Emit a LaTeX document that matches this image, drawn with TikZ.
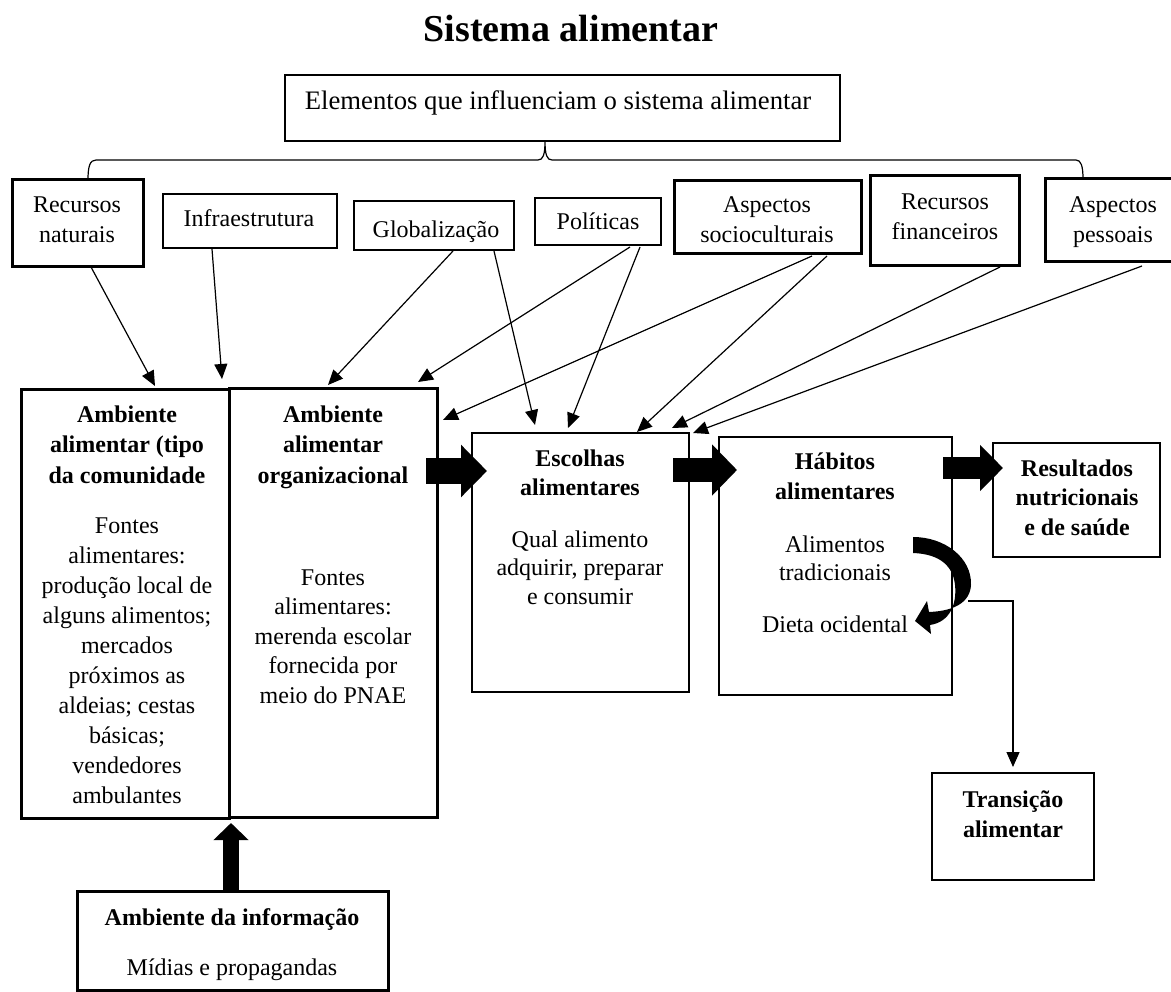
\documentclass[tikz,border=0pt]{standalone}
\usepackage{fontspec}
\setmainfont{Liberation Serif}
\usetikzlibrary{arrows.meta,calc}
\begin{document}
\begin{tikzpicture}[x=1pt,y=-1pt,
  box/.style={draw, rectangle, anchor=north west, inner sep=0pt, outer sep=0pt, line width=1.3pt},
  midbox/.style={box, line width=2pt},
  boldbox/.style={box, line width=3pt},
  % multi-line texts are placed by the baseline of their last line
  txt/.style={align=center, anchor=base, inner sep=0pt, font=\fontsize{24}{30}\selectfont},
  btxt/.style={txt, font=\fontsize{24}{30.5}\selectfont\bfseries},
  arr/.style={line width=1.2pt, -{Triangle[length=15pt,width=13pt]}},
  brace/.style={line width=1.2pt},
  curvedarrow/.style={fill=black, draw=none}
]
\useasboundingbox (0,0) rectangle (1171,992);

% title
\node[anchor=base, inner sep=0pt, font=\fontsize{38}{44}\selectfont\bfseries] (title) at (571,42) {Sistema alimentar};

% heading box
\node[midbox, minimum width=555pt, minimum height=66pt] (top) at (285,75) {};
\node[txt, font=\fontsize{26.7}{30}\selectfont] (topT) at (558,110) {Elementos que influenciam o sistema alimentar};

% influencing factors
\node[boldbox, minimum width=131pt, minimum height=87pt] (natur) at (12,180) {};
\node[txt] (naturT) at (77,243) {Recursos\\naturais};
\node[box, minimum width=174pt, minimum height=54pt] (infra) at (163,194) {};
\node[txt] (infraT) at (249,227) {Infraestrutura};
\node[box, minimum width=160pt, minimum height=49pt] (glob) at (354,201) {};
\node[txt] (globT) at (436,238) {Globalização};
\node[box, minimum width=126pt, minimum height=47pt] (polit) at (535,198) {};
\node[txt] (politT) at (598,230) {Políticas};
\node[boldbox, minimum width=187pt, minimum height=73pt] (socio) at (674,181) {};
\node[txt] (socioT) at (767,243) {Aspectos\\socioculturais};
\node[boldbox, minimum width=149pt, minimum height=90pt] (finan) at (870,176) {};
\node[txt] (finanT) at (945,240) {Recursos\\financeiros};
\node[boldbox, minimum width=128pt, minimum height=83pt] (pess) at (1045,179) {};
\node[txt] (pessT) at (1113,243) {Aspectos\\pessoais};

% brace joining the factors to the heading box
\coordinate (bl) at ($(natur.north west)+(76,0)$);
\coordinate (bc) at ($(top.south west)+(260,0)$);
\coordinate (br) at ($(pess.north west)+(38,0)$);
\draw[brace] (bl) .. controls (88,166) and (90,160) .. (96,160) -- (538,160)
  .. controls (543,160) and (545,155) .. (bc)
  .. controls (545,155) and (547,160) .. (552,160) -- (1076,160)
  .. controls (1081,160) and (1083,166) .. (br);

% food environments
\node[boldbox, minimum width=208pt, minimum height=428pt] (L) at (21,390) {};
\node[boldbox, minimum width=208pt, minimum height=428pt] (O) at (229,389) {};
\node[btxt] (LH) at (127,483) {Ambiente\\alimentar (tipo\\da comunidade};
\node[txt] (LB) at (127,803) {Fontes\\alimentares:\\produção local de\\alguns alimentos;\\mercados\\próximos as\\aldeias; cestas\\básicas;\\vendedores\\ambulantes};
\node[btxt] (OH) at (333,483) {Ambiente\\alimentar\\organizacional};
\node[txt, font=\fontsize{24}{29.5}\selectfont] (OB) at (333,703) {Fontes\\alimentares:\\merenda escolar\\fornecida por\\meio do PNAE};

% choices, habits, outcomes
\node[box, minimum width=217pt, minimum height=259pt] (E) at (472,433) {};
\node[btxt, font=\fontsize{24}{28.5}\selectfont\bfseries] (EH) at (580,495) {Escolhas\\alimentares};
\node[txt, font=\fontsize{24}{28.5}\selectfont] (EB) at (580,604) {Qual alimento\\adquirir, preparar\\e consumir};

\node[box, minimum width=233pt, minimum height=258pt] (H) at (719,437) {};
\node[btxt, font=\fontsize{24}{30}\selectfont\bfseries] (HH) at (835,500) {Hábitos\\alimentares};
\node[txt, font=\fontsize{24}{28}\selectfont] (HB) at (835,580) {Alimentos\\tradicionais};
\node[txt] (HD) at (835,632) {Dieta ocidental};

\node[midbox, minimum width=167pt, minimum height=114pt] (R) at (993,443) {};
\node[btxt, font=\fontsize{24}{29.5}\selectfont\bfseries] (RT) at (1077,535) {Resultados\\nutricionais\\e de saúde};

\node[box, minimum width=162pt, minimum height=107pt] (T) at (932,773) {};
\node[btxt, font=\fontsize{24}{30}\selectfont\bfseries] (TT) at (1013,837) {Transição\\alimentar};

\node[boldbox, minimum width=311pt, minimum height=99pt] (I) at (77,891) {};
\node[btxt] (IH) at (232,925) {Ambiente da informação};
\node[txt] (IB) at (232,975) {Mídias e propagandas};

% thin arrows from the factors
\draw[arr] ($(natur.south west)+(79,0)$) -- ($(L.north west)+(134,-4)$);
\draw[arr] ($(infra.south west)+(49,1)$) -- ($(L.north east)+(-7,-11)$);
\draw[arr] ($(glob.south west)+(99,1)$) -- ($(O.north west)+(99,-4)$);
\draw[arr] ($(glob.south west)+(140,1)$) -- ($(E.north west)+(63,-8)$);
\draw[arr] ($(polit.south west)+(95,2)$) -- ($(O.north east)+(-19,-7)$);
\draw[arr] ($(polit.south west)+(105,2)$) -- ($(E.north west)+(96,-5)$);
\draw[arr] ($(socio.south west)+(138,2)$) -- ($(O.north east)+(6,31)$);
\draw[arr] ($(socio.south west)+(153,2)$) -- ($(E.north west)+(165,-1)$);
\draw[arr] ($(finan.south west)+(130,1)$) -- ($(E.north east)+(-17,-5)$);
\draw[arr] ($(pess.south west)+(97,4)$) -- ($(E.north east)+(4,0)$);

% block arrows
\draw[line width=25pt, -{Triangle[length=26pt,width=51pt]}] ($(O.north east)+(-11,82)$) -- ($(E.north west)+(15,38)$);
\draw[line width=24pt, -{Triangle[length=25pt,width=50pt]}] ($(E.north east)+(-16,37)$) -- ($(H.north west)+(18,33)$);
\draw[line width=21pt, -{Triangle[length=23pt,width=45pt]}] ($(H.north east)+(-9,31)$) -- ($(R.north west)+(10,25)$);
\draw[line width=16pt, -{Triangle[length=17pt,width=34pt]}] ($(I.north west)+(154,0)$) -- ($(L.south east)+(2,5)$);

% curved arrow from traditional foods to the western diet
\fill[curvedarrow] (913,537) .. controls (945,537) and (972,558) .. (971,585)
  .. controls (970,602) and (955,611) .. (929,612)
  -- (927,601) -- (915,621) -- (931,634) -- (930,625)
  .. controls (950,622) and (957,604) .. (955,585)
  .. controls (953,566) and (940,554) .. (913,553) -- cycle;

% nutrition transition
\coordinate (bend) at (968,601);
\draw[arr] (bend) -| ($(T.north)+(0,-6)$);
\end{tikzpicture}
\end{document}
